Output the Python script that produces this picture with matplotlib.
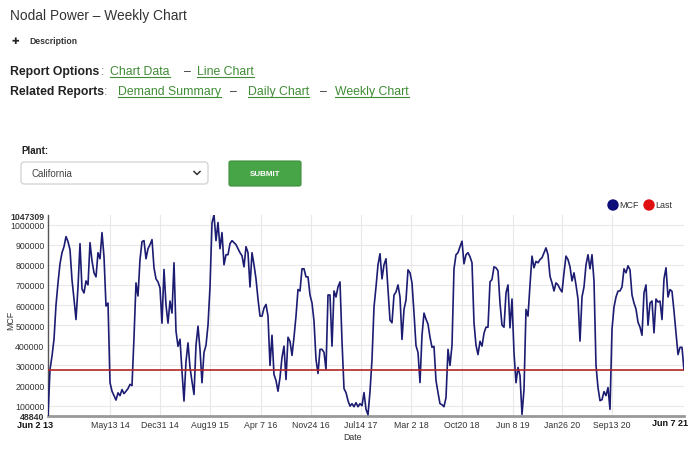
import numpy as np
import matplotlib.pyplot as plt
from matplotlib.patches import FancyBboxPatch, Circle
from matplotlib.lines import Line2D

plt.rcParams['font.family'] = ['Liberation Sans', 'DejaVu Sans']

# weekly MCF values, Jun 2 2013 -> Jun 7 2021 (~2 weeks apart)
mcf = [
    48840, 280000, 346000, 430000, 600000, 710000, 805000, 860000, 890000, 940000,
    915000, 875000, 725000, 630000, 528000, 690000, 905000, 680000, 660000, 720000,
    700000, 910000, 820000, 760000, 740000, 860000, 830000, 960000, 840000, 595000,
    610000, 215000, 172000, 150000, 128000, 164000, 150000, 180000, 160000, 172000,
    185000, 206000, 200000, 440000, 710000, 645000, 826000, 915000, 920000, 830000,
    880000, 900000, 925000, 785000,
    730000, 715000, 685000, 510000, 777000, 600000, 510000, 620000, 560000, 810000,
    470000, 395000, 430000, 270000, 123000, 320000, 412000, 290000, 220000, 156000,
    400000, 495000, 380000, 214000, 365000, 400000, 500000, 690000, 1008000, 1047309,
    920000, 1010000, 880000, 960000, 800000, 850000, 850000, 905000, 920000, 910000,
    900000, 880000, 860000, 845000, 790000, 890000, 860000, 690000, 860000, 800000,
    730000, 630000, 545000,
    545000, 585000, 603000, 545000, 300000, 450000, 255000, 225000, 172000, 240000,
    340000, 396000, 230000, 440000, 420000, 350000, 440000, 545000, 677000, 670000,
    780000, 780000, 740000, 740000, 650000, 610000, 520000, 330000, 260000, 380000,
    380000, 365000, 280000, 650000, 650000, 396000, 670000, 640000, 690000, 715000,
    420000, 185000, 165000, 125000, 98000, 110000, 95000, 115000, 95000, 110000,
    100000, 165000,
    82000, 55000, 170000, 330000, 590000, 690000, 800000, 855000, 730000, 800000,
    830000, 680000, 525000, 512000, 650000, 665000, 700000, 640000, 429000, 578000,
    625000, 775000, 760000, 710000, 560000, 398000, 365000, 215000, 450000, 560000,
    530000, 505000, 440000, 390000, 395000, 225000, 165000, 110000, 105000, 95000,
    140000, 380000, 300000, 400000, 780000, 850000, 860000, 890000, 917000, 805000,
    850000, 860000, 840000, 810000,
    512000, 400000, 354000, 420000, 396000, 460000, 490000, 490000, 715000, 727000,
    790000, 785000, 770000, 610000, 500000, 490000, 660000, 700000, 487000, 630000,
    363000, 214000, 290000, 250000, 57000, 180000, 578000, 545000, 700000, 843000,
    785000, 817000, 810000, 826000, 835000, 860000, 884000, 850000, 743000, 710000,
    670000, 710000, 700000, 680000, 665000, 760000, 843000, 826000, 790000, 720000,
    760000, 700000, 630000,
    421000, 640000, 690000, 800000, 850000, 780000, 850000, 720000, 300000, 190000,
    125000, 130000, 170000, 150000, 190000, 82000, 480000, 590000, 640000, 669000,
    670000, 690000, 780000, 760000, 795000, 775000, 650000, 610000, 580000, 515000,
    490000, 450000, 660000, 700000, 500000, 610000, 620000, 462000, 630000, 615000,
    620000, 528000, 730000, 785000, 640000, 677000, 668000, 570000, 460000, 354000,
    390000, 390000, 277000,
]

tick_labels = ['May13 14', 'Dec31 14', 'Aug19 15', 'Apr 7 16', 'Nov24 16', 'Jul14 17',
               'Mar 2 18', 'Oct20 18', 'Jun 8 19', 'Jan26 20', 'Sep13 20']
first_label = 'Jun 2 13'
last_label = 'Jun 7 21'
y_ticks = [100000, 200000, 300000, 400000, 500000, 600000, 700000, 800000, 900000, 1000000]

W, H = 700, 456
fig = plt.figure(figsize=(7, 4.56), dpi=100)

# page around the chart, drawn in pixel coordinates
bg = fig.add_axes([0, 0, 1, 1])
bg.set_xlim(0, W)
bg.set_ylim(H, 0)
bg.axis('off')

dark = '#333333'
green = '#3f8c35'
fs = 8.8

bg.text(10, 16, 'Nodal Power \u2013 Weekly Chart', fontsize=9.9, color=dark, va='center')
bg.text(12, 41, '\u271a', fontsize=6.5, color='#222222', va='center', family='DejaVu Sans')
bg.text(29, 41, 'Description', fontsize=6.2, color=dark, va='center', weight='bold')

links = []
bg.text(10, 72, 'Report Options', fontsize=fs, color='#222222', va='center', weight='bold')
bg.text(101, 72, ':', fontsize=fs, color='#777777', va='center')
links.append(bg.text(110, 72, 'Chart Data', fontsize=fs, color=green, va='center'))
bg.text(184, 72, '\u2013', fontsize=fs, color=dark, va='center')
links.append(bg.text(197, 72, 'Line Chart', fontsize=fs, color=green, va='center'))

bg.text(10, 92, 'Related Reports', fontsize=fs, color='#222222', va='center', weight='bold')
bg.text(104, 92, ':', fontsize=fs, color='#777777', va='center')
links.append(bg.text(118, 92, 'Demand Summary', fontsize=fs, color=green, va='center'))
bg.text(230, 92, '\u2013', fontsize=fs, color=dark, va='center')
links.append(bg.text(248, 92, 'Daily Chart', fontsize=fs, color=green, va='center'))
bg.text(320, 92, '\u2013', fontsize=fs, color=dark, va='center')
links.append(bg.text(335, 92, 'Weekly Chart', fontsize=fs, color=green, va='center'))

bg.text(21, 151, 'Plant:', fontsize=7, color='#222222', va='center', weight='bold')
bg.add_patch(FancyBboxPatch((21, 163), 187, 22, boxstyle='round,pad=0,rounding_size=3',
                            fc='white', ec='#cccccc', lw=0.8))
bg.text(32, 174, 'California', fontsize=7, color='#444444', va='center')
bg.add_line(Line2D([194, 197, 200], [172.5, 175.5, 172.5], color='#333333', lw=1.1))
bg.add_patch(FancyBboxPatch((229, 162), 72, 25, boxstyle='round,pad=0,rounding_size=2',
                            fc='#47a447', ec='#3d8f3d', lw=0.8))
bg.text(265, 174.5, 'SUBMIT', fontsize=5.8, color='white', va='center', ha='center', weight='bold')

# legend
bg.add_patch(Circle((613, 206), 5, color='#0c0c7a'))
bg.text(619.5, 206, 'MCF', fontsize=6.5, color=dark, va='center')
bg.add_patch(Circle((649, 206), 5, color='#e01010'))
bg.text(655.5, 206, 'Last', fontsize=6.5, color=dark, va='center')

# chart
ax = fig.add_axes([48 / W, 1 - 417 / H, 636 / W, 201 / H])
x = np.arange(len(mcf))
ax.plot(x, mcf, color='#1c1c72', lw=1.2, zorder=3)
ax.axhline(mcf[-1], color='#b22525', lw=1.2, zorder=4)
ax.set_xlim(0, len(mcf) - 1)
ax.set_ylim(min(mcf), max(mcf))

tick_px = np.array([110, 160, 210, 260.5, 310.5, 360.5, 411, 461.5, 512.5, 562, 612])
tick_pos = (tick_px - 48) / 636 * (len(mcf) - 1)
ax.set_xticks(tick_pos)
ax.set_xticklabels(tick_labels)
ax.set_yticks([min(mcf)] + y_ticks + [max(mcf)])
ax.set_yticklabels([str(v) for v in [min(mcf)] + y_ticks + [max(mcf)]])
for i, lab in enumerate(ax.get_yticklabels()):
    if i == 0 or i == len(y_ticks) + 1:
        lab.set_fontweight('bold')
ax.tick_params(axis='both', length=0, labelsize=6.3, colors='#333333', pad=2.5)
ax.tick_params(axis='x', pad=3)

for v in y_ticks:
    ax.axhline(v, color='#e8e8e8', lw=0.8, zorder=1)
for p in tick_pos:
    ax.axvline(p, color='#e8e8e8', lw=0.8, zorder=1)

for s in ['top', 'right']:
    ax.spines[s].set_visible(False)
ax.spines['left'].set_color('#555555')
ax.spines['left'].set_linewidth(1)
ax.spines['bottom'].set_color('#999999')
ax.spines['bottom'].set_linewidth(2)

fig.text(35 / W, 1 - 425.5 / H, first_label, fontsize=6.5, color='#111111', weight='bold',
         ha='center', va='center')
fig.text(670 / W, 1 - 424 / H, last_label, fontsize=6.5, color='#111111', weight='bold',
         ha='center', va='center')
fig.text(11 / W, 1 - 320 / H, 'MCF', fontsize=6.3, color=dark, rotation=90, ha='center', va='center')
fig.text(352 / W, 1 - 438 / H, 'Date', fontsize=6.3, color=dark, ha='center', va='center')

# underline the links
fig.canvas.draw()
r = fig.canvas.get_renderer()
inv = bg.transData.inverted()
for t in links:
    bb = t.get_window_extent(r)
    (x0, y0), (x1, y1) = inv.transform([(bb.x0, bb.y0), (bb.x1, bb.y1)])
    bg.add_line(Line2D([x0, x1], [y0 - 0.5, y0 - 0.5], color=green, lw=0.8))

fig.savefig('out.png', dpi=100)
